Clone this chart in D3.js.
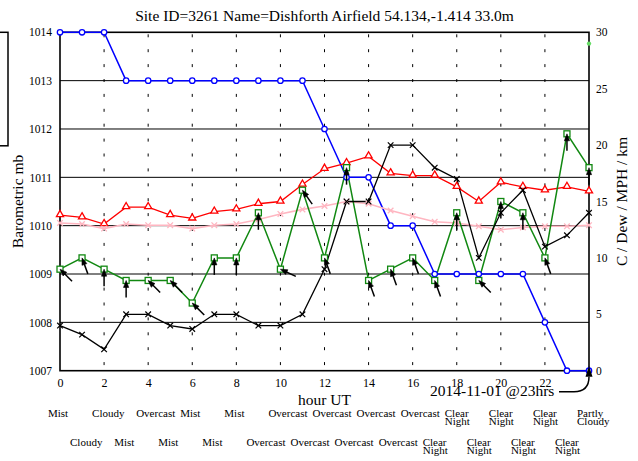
<!DOCTYPE html>
<html><head><meta charset="utf-8">
<script src="https://cdn.jsdelivr.net/npm/d3@7"></script>
<style>
body{margin:0;background:#fff;}
svg{display:block;font-family:"Liberation Serif","Times New Roman",serif;}
</style></head>
<body>
<script>
const title = "Site ID=3261 Name=Dishforth Airfield 54.134,-1.414 33.0m";
const hours = d3.range(0, 25);
const pressure = [1014,1014,1014,1013,1013,1013,1013,1013,1013,1013,1013,1013,1012,1011,1011,1010,1010,1009,1009,1009,1009,1009,1008,1007,1007];
const temperature = [13.8,13.6,13.0,14.5,14.5,13.8,13.5,14.1,14.3,14.8,15.0,16.5,17.9,18.4,19.0,17.5,17.3,17.3,16.3,15.0,16.7,16.3,16.0,16.3,15.9];
const dewPoint = [13.1,13.0,12.6,13.0,12.9,12.9,12.6,12.9,13.0,13.4,13.9,14.3,14.6,15.0,14.8,14.2,13.7,13.2,13.1,12.8,12.5,12.7,12.8,12.8,12.9];
const windSpeed = [9,10,9,8,8,8,6,10,10,14,9,16,10,18,8,9,10,8,14,8,15,14,10,21,18];
const windDir = [135,160,180,180,135,135,135,180,180,180,115,145,160,180,160,160,160,160,180,135,180,180,160,180,180];
const visibility = [4.0,3.2,1.9,5,5,4,3.7,5,5,4,4,5,9,15,15,20,20,18,17,10,14,16,11,12,14];
const gustHour = [24];
const gustSpeed = [29];
const weather = ["Mist","Cloudy","Cloudy","Mist","Overcast","Mist","Mist","Mist","Mist","Overcast","Overcast","Overcast","Overcast","Overcast","Overcast","Overcast","Overcast","Clear\nNight","Clear\nNight","Clear\nNight","Clear\nNight","Clear\nNight","Clear\nNight","Clear\nNight","Partly\nCloudy"];
const leftTicks = [1007,1008,1009,1010,1011,1012,1013,1014];
const rightTicks = [0,5,10,15,20,25,30];
const xTicks = [0,2,4,6,8,10,12,14,16,18,20,22];
const gridHours = [2,4,6,8,10,12,14,16,18,20,22];
const annotation = "2014-11-01 @23hrs";

const W = 638, H = 461;
const svg = d3.select("body").append("svg").attr("width", W).attr("height", H);
const x = d3.scaleLinear().domain([0, 24]).range([60, 589]);
const yL = d3.scaleLinear().domain([1007, 1014]).range([370.7, 32.3]);
const yR = d3.scaleLinear().domain([0, 30]).range([370.7, 32.3]);

// partial legend box at left edge
svg.append("rect").attr("x", -20).attr("y", 32.3).attr("width", 28).attr("height", 113.5)
  .attr("fill", "#fff").attr("stroke", "#000").attr("stroke-width", 1.5);

// title
svg.append("text").attr("x", 324.5).attr("y", 21).attr("text-anchor", "middle")
  .attr("font-size", 15.5).text(title);

// horizontal grid
svg.append("g").selectAll("line").data(leftTicks.slice(1, -1)).join("line")
  .attr("x1", x(0)).attr("x2", x(24)).attr("y1", d => yL(d)).attr("y2", d => yL(d))
  .attr("stroke", "#000").attr("stroke-width", 1);
// vertical dotted grid
svg.append("g").selectAll("line").data(gridHours).join("line")
  .attr("x1", d => x(d)).attr("x2", d => x(d)).attr("y1", yL(1014) + 2).attr("y2", yL(1007))
  .attr("stroke", "#000").attr("stroke-width", 1).attr("stroke-dasharray", "3,11.9");

// axes
const axL = svg.append("g").attr("transform", `translate(${x(0)},0)`)
  .call(d3.axisLeft(yL).tickValues(leftTicks).tickSize(0).tickPadding(8).tickFormat(d3.format("d")));
const axR = svg.append("g").attr("transform", `translate(${x(24)},0)`)
  .call(d3.axisRight(yR).tickValues(rightTicks).tickSize(0).tickPadding(7));
const axB = svg.append("g").attr("transform", `translate(0,${yL(1007)})`)
  .call(d3.axisBottom(x).tickValues(xTicks).tickSize(0).tickPadding(8));
[axL, axR, axB].forEach(g => {
  g.select(".domain").remove();
  g.selectAll("text").attr("font-family", "Liberation Serif").attr("font-size", 11.5).attr("fill", "#000");
});
axB.selectAll("text").attr("font-size", 12);

// frame
svg.append("rect").attr("x", x(0)).attr("y", yL(1014)).attr("width", x(24) - x(0)).attr("height", yL(1007) - yL(1014))
  .attr("fill", "none").attr("stroke", "#000").attr("stroke-width", 1.6);

// axis titles
svg.append("text").attr("x", 324.5).attr("y", 404.5).attr("text-anchor", "middle").attr("font-size", 15.5).text("hour UT");
svg.append("text").attr("transform", `translate(23,${(yL(1007) + yL(1014)) / 2}) rotate(-90)`)
  .attr("text-anchor", "middle").attr("font-size", 15.5).text("Barometric mb");
svg.append("text").attr("transform", `translate(627,${(yL(1007) + yL(1014)) / 2}) rotate(-90)`)
  .attr("text-anchor", "middle").attr("font-size", 15.5).text("C / Dew / MPH / km");

// series
function series(vals, scale, color, width) {
  svg.append("path").datum(vals)
    .attr("d", d3.line().x((d, i) => x(hours[i])).y(d => scale(d)))
    .attr("fill", "none").attr("stroke", color).attr("stroke-width", width);
}
series(pressure, yL, "#0000ff", 1.5);
series(dewPoint, yR, "#ffb6c1", 1.6);
series(temperature, yR, "#ff0000", 1.3);
series(windSpeed, yR, "#118811", 1.5);
series(visibility, yR, "#000", 1.3);

// markers
svg.append("g").selectAll("circle").data(pressure).join("circle")
  .attr("cx", (d, i) => x(hours[i])).attr("cy", d => yL(d)).attr("r", 2.7)
  .attr("fill", "#fff").attr("stroke", "#0000ff").attr("stroke-width", 1.3);
const tri = d3.symbol().type(d3.symbolTriangle).size(22);
svg.append("g").selectAll("path").data(temperature).join("path")
  .attr("d", tri).attr("transform", (d, i) => `translate(${x(hours[i])},${yR(d) - 0.5})`)
  .attr("fill", "#fff").attr("stroke", "#ff0000").attr("stroke-width", 1.3);
function crosses(vals, color, w) {
  svg.append("g").selectAll("path").data(vals).join("path")
    .attr("d", "M-2.8,-2.8L2.8,2.8M-2.8,2.8L2.8,-2.8")
    .attr("transform", (d, i) => `translate(${x(hours[i])},${yR(d)})`)
    .attr("fill", "none").attr("stroke", color).attr("stroke-width", w);
}
crosses(dewPoint, "#ffb6c1", 1.3);
svg.append("g").selectAll("rect").data(windSpeed).join("rect")
  .attr("x", (d, i) => x(hours[i]) - 3).attr("y", d => yR(d) - 3).attr("width", 6).attr("height", 6)
  .attr("fill", "#fff").attr("stroke", "#118811").attr("stroke-width", 1.3);
crosses(visibility, "#000", 1.2);

// wind arrows
const L = 17;
const arrows = svg.append("g");
windSpeed.forEach((v, i) => {
  const hx = x(hours[i]), hy = yR(v);
  const a = windDir[i] * Math.PI / 180;
  const ux = Math.sin(a), uy = -Math.cos(a);
  const tx = hx + L * ux, ty = hy + L * uy;
  arrows.append("line").attr("x1", tx).attr("y1", ty).attr("x2", hx + 3 * ux).attr("y2", hy + 3 * uy)
    .attr("stroke", "#000").attr("stroke-width", 1.5);
  const hl = 7, hw = 2.6;
  const bx = hx + hl * ux, by = hy + hl * uy;
  const px = -uy, py = ux;
  arrows.append("path")
    .attr("d", `M${hx},${hy}L${bx + hw * px},${by + hw * py}L${bx - hw * px},${by - hw * py}Z`)
    .attr("fill", "#000").attr("stroke", "#000").attr("stroke-width", 0.6);
});

// gust point
svg.append("g").selectAll("circle").data(gustSpeed).join("circle")
  .attr("cx", (d, i) => x(gustHour[i])).attr("cy", d => yR(d)).attr("r", 2.2).attr("fill", "#66dd66");

// weather labels
const wg = svg.append("g").attr("font-size", 11);
weather.forEach((w, i) => {
  const base = i % 2 === 0 ? 417 : 445.5;
  const t = wg.append("text").attr("x", x(hours[i]) - 12).attr("y", base);
  w.split("\n").forEach((s, k) => {
    t.append("tspan").attr("x", x(hours[i]) - 12).attr("y", base + k * 8).text(s);
  });
});

// annotation
svg.append("text").attr("x", 430).attr("y", 395.5).attr("font-size", 15.5).text(annotation);
const endX = x(24), endY = yR(0);
svg.append("path").attr("d", `M559,391.7L574,391.7Q${endX},391.7 ${endX},${endY + 6}`)
  .attr("fill", "none").attr("stroke", "#000").attr("stroke-width", 1.5);
svg.append("path").attr("d", `M${endX},${endY - 5}L${endX - 3.5},${endY + 6}L${endX + 3.5},${endY + 6}Z`).attr("fill", "#000");
</script>
</body></html>
